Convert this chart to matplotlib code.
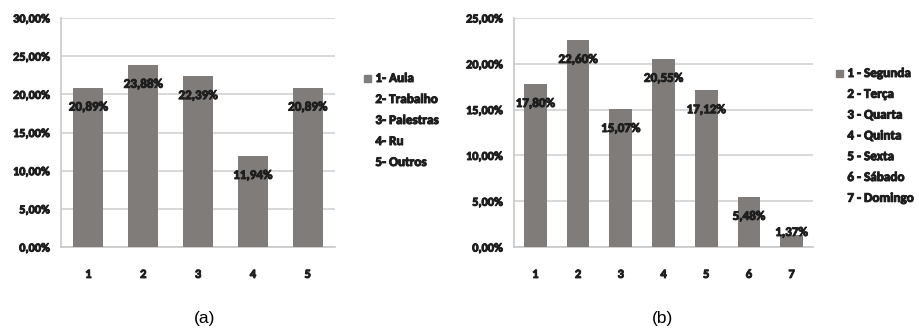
import numpy as np
import matplotlib
matplotlib.use("Agg")
import matplotlib.pyplot as plt
import matplotlib.patheffects as pe

# data (a)
cats_a = ["1", "2", "3", "4", "5"]
vals_a = [20.89, 23.88, 22.39, 11.94, 20.89]
legend_a = ["1- Aula", "2- Trabalho", "3- Palestras", "4- Ru", "5- Outros"]
yticks_a = [0, 5, 10, 15, 20, 25, 30]

# data (b)
cats_b = ["1", "2", "3", "4", "5", "6", "7"]
vals_b = [17.80, 22.60, 15.07, 20.55, 17.12, 5.48, 1.37]
legend_b = ["1 - Segunda", "2 - Terça", "3 - Quarta", "4 - Quinta", "5 - Sexta", "6 - Sábado", "7 - Domingo"]
yticks_b = [0, 5, 10, 15, 20, 25]

fam = ["Carlito", "Lato", "DejaVu Sans"]
bar_col = "#807c79"
grid_col = "#d2d2d2"
txt_col = "#1e1e1e"
thick = [pe.withStroke(linewidth=0.7, foreground=txt_col)]


def pct(v):
    return ("%.2f%%" % v).replace(".", ",")


def draw(ax, cats, vals, yticks, width):
    x = np.arange(1, len(cats) + 1)
    ymax = yticks[-1]
    ax.bar(x, vals, width=width, color=bar_col, zorder=3)
    ax.set_xlim(0.5, len(cats) + 0.5)
    ax.set_ylim(0, ymax)
    ax.set_yticks(yticks)
    ax.set_yticklabels([pct(t) for t in yticks], fontsize=8.8, fontweight="bold",
                       family=fam, color=txt_col, path_effects=thick)
    ax.set_xticks(x)
    ax.set_xticklabels(cats, fontsize=9, fontweight="bold", family=fam, color=txt_col,
                       path_effects=thick)
    ax.tick_params(axis="both", length=0)
    ax.tick_params(axis="x", pad=15)
    ax.tick_params(axis="y", pad=8)
    ax.yaxis.grid(True, color=grid_col, linewidth=1.2, zorder=0)
    for s in ["top", "right"]:
        ax.spines[s].set_visible(False)
    for s in ["left", "bottom"]:
        ax.spines[s].set_color("#c8c8c8")
        ax.spines[s].set_linewidth(1.2)
    # labels sit just inside the bar end, but not below a minimum height
    for xi, v in zip(x, vals):
        ly = max(v - 0.083 * ymax, 0.066 * ymax)
        ax.text(xi, ly, pct(v), ha="center", va="center", fontsize=9.4,
                fontweight="bold", family=fam, color=txt_col, zorder=4,
                path_effects=thick)


fig = plt.figure(figsize=(9.2, 3.33), dpi=100)
ax1 = fig.add_axes([0.0663, 0.258, 0.298, 0.688])
ax2 = fig.add_axes([0.5587, 0.258, 0.325, 0.688])
draw(ax1, cats_a, vals_a, yticks_a, 0.55)
draw(ax2, cats_b, vals_b, yticks_b, 0.53)


def legend(x0, y0, step, labels):
    fig.patches.append(plt.Rectangle((x0 - 0.012, y0 - 0.012), 0.007, 0.021,
                                     transform=fig.transFigure, color=bar_col))
    for i, lab in enumerate(labels):
        fig.text(x0, y0 - i * step, lab, fontsize=9.5, fontweight="bold",
                 family=fam, color=txt_col, va="center", ha="left",
                 path_effects=thick)


legend(0.408, 1 - 78 / 333, 21 / 333, legend_a)
legend(0.921, 1 - 73 / 333, 20.8 / 333, legend_b)

fig.text(205 / 920, 1 - 318 / 333, "(a)", fontsize=12.5, ha="center", va="center",
         family=["Liberation Sans", "DejaVu Sans"])
fig.text(663 / 920, 1 - 318 / 333, "(b)", fontsize=12.5, ha="center", va="center",
         family=["Liberation Sans", "DejaVu Sans"])

fig.savefig("out.png", dpi=100)
